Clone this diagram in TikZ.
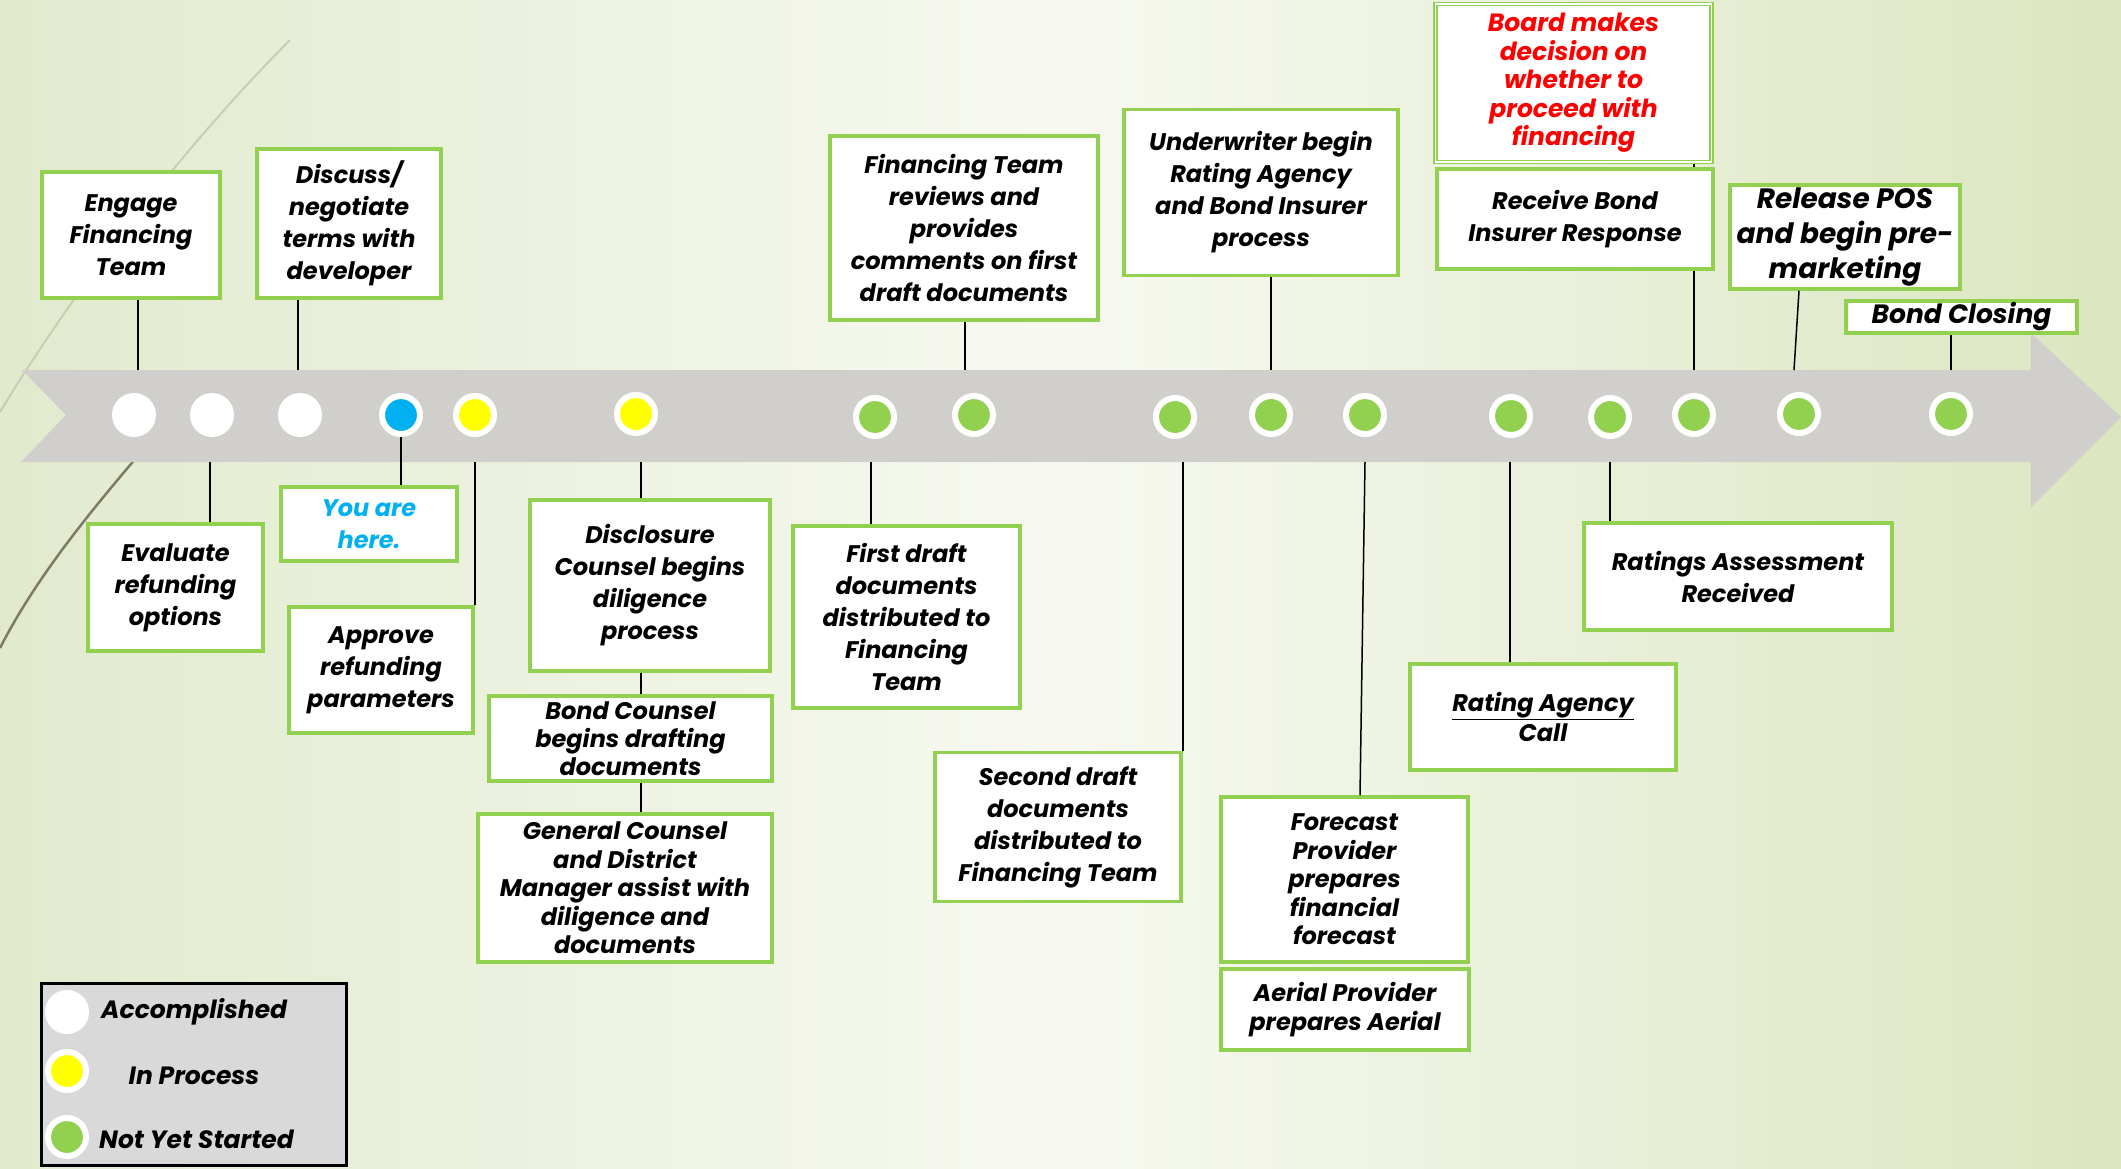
\documentclass[tikz,border=0pt]{standalone}
\usepackage{fontspec}
\setmainfont{Poppins}
\usetikzlibrary{calc}
\definecolor{bgleft}{HTML}{E1EACD}
\definecolor{bgmid}{HTML}{F7F9F1}
\definecolor{bgright}{HTML}{DBE6C0}
\definecolor{band}{HTML}{D0CFCC}
\definecolor{boxgreen}{HTML}{92D050}
\definecolor{dotgreen}{HTML}{92D050}
\definecolor{dotblue}{HTML}{00B0F0}
\definecolor{dotyellow}{HTML}{FFFF00}
\definecolor{legendgray}{HTML}{D9D9D9}
\definecolor{curvelight}{HTML}{CACDB2}
\definecolor{curvedark}{HTML}{7F7B63}
\newcommand{\bxf}[2]{\bfseries\itshape\fontsize{#1}{#2}\selectfont}
\begin{document}
\begin{tikzpicture}[x=1pt,y=-1pt,
  box/.style={draw=boxgreen, line width=3.5pt, fill=white, align=center, inner sep=0pt, font=\bxf{24}{32}},
  conn/.style={draw=black, line width=1.5pt},
  dotw/.style={circle, fill=white, minimum size=44pt, inner sep=0pt},
  dotc/.style={circle, fill=#1, draw=white, line width=6pt, minimum size=38pt, inner sep=0pt},
  legtext/.style={font=\bxf{25}{28}, inner sep=0pt}
]
\useasboundingbox (0,0) rectangle (2121,1169);
\shade[left color=bgleft, right color=bgright, middle color=bgmid] (0,0) rectangle (2121,1169);
% background theme curves
\draw[curvelight, line width=2pt] (290,40) .. controls (190,140) and (80,280) .. (0,412);
\draw[curvedark, line width=2.5pt] (160,430) .. controls (100,500) and (40,570) .. (0,648);
% arrow band
\fill[band] (22,370) -- (2031,370) -- (2031,333) -- (2121,417) -- (2031,507) -- (2031,462) -- (21,462) -- (66,415) -- cycle;
\coordinate (bt) at (0,370);
\coordinate (bb) at (0,462);
% dots
\node[dotw] (c1) at (134,415) {};
\node[dotw] (c2) at (212,415) {};
\node[dotw] (c3) at (300,415) {};
\node[dotc=dotblue] (c4) at (401,415) {};
\node[dotc=dotyellow] (c5) at (475,415) {};
\node[dotc=dotyellow] (c6) at (636,414) {};
\node[dotc=dotgreen] (c7) at (875,417) {};
\node[dotc=dotgreen] (c8) at (974,415) {};
\node[dotc=dotgreen] (c9) at (1175,417) {};
\node[dotc=dotgreen] (c10) at (1271,415) {};
\node[dotc=dotgreen] (c11) at (1365,415) {};
\node[dotc=dotgreen] (c12) at (1511,416) {};
\node[dotc=dotgreen] (c13) at (1610,417) {};
\node[dotc=dotgreen] (c14) at (1694,415) {};
\node[dotc=dotgreen] (c15) at (1799,414) {};
\node[dotc=dotgreen] (c16) at (1951,414) {};
% board connector (behind the receive box)
\node[box, draw=none, fill=none, minimum width=277pt, minimum height=159pt] (boardpos) at (1573.5,82.5) {};
\draw[conn] ([xshift=120.5pt]boardpos.south) -- ([xshift=120.5pt]boardpos.south |- bt);
% boxes
\node[box, minimum width=178pt, minimum height=126pt] (engage) at (131,235) {Engage\\Financing\\Team};
\node[box, minimum width=184pt, minimum height=149pt] (discuss) at (349,223.5) {Discuss/\\negotiate\\terms with\\developer};
\node[box, minimum width=175pt, minimum height=127pt] (evaluate) at (175.5,587.5) {Evaluate\\refunding\\options};
\node[box, minimum width=176pt, minimum height=74pt, text=dotblue] (youhere) at (369,524) {You are\\here.};
\node[box, minimum width=184pt, minimum height=126pt] (approve) at (381,670) {Approve\\refunding\\parameters};
\node[box, minimum width=240pt, minimum height=171pt] (disclosure) at (650,585.5) {Disclosure\\Counsel begins\\diligence\\process};
\node[box, minimum width=283pt, minimum height=85pt, font=\bxf{24}{28}] (bondcounsel) at (630.5,738.5) {Bond Counsel\\begins drafting\\documents};
\node[box, minimum width=294pt, minimum height=148pt, font=\bxf{24}{28.5}] (general) at (625,888) {General Counsel\\and District\\Manager assist with\\diligence and\\documents};
\node[box, minimum width=268pt, minimum height=184pt] (fteam) at (964,228) {Financing Team\\reviews and\\provides\\comments on first\\draft documents};
\node[box, minimum width=227pt, minimum height=182pt] (firstdraft) at (906.5,617) {First draft\\documents\\distributed to\\Financing\\Team};
\node[box, minimum width=274pt, minimum height=166pt] (underwriter) at (1261,192.5) {Underwriter begin\\Rating Agency\\and Bond Insurer\\process};
\node[box, minimum width=246pt, minimum height=149pt] (second) at (1058,827) {Second draft\\documents\\distributed to\\Financing Team};
\node[box, minimum width=247pt, minimum height=165pt, font=\bxf{24}{28.5}] (forecast) at (1344.5,879.5) {Forecast\\Provider\\prepares\\financial\\forecast};
\node[box, minimum width=248pt, minimum height=81pt, font=\bxf{24}{28.5}] (aerial) at (1345,1009.5) {Aerial Provider\\prepares Aerial};
\node[box, draw=boxgreen, line width=1.6pt, double=white, double distance=1.6pt, minimum width=276pt, minimum height=158pt, text=red, font=\bxf{25}{28.5}] (board) at (1573.5,83) {Board makes\\decision on\\whether to\\proceed with\\financing};
\node[box, minimum width=276pt, minimum height=100pt] (receive) at (1575,219) {Receive Bond\\Insurer Response};
\node[box, minimum width=230pt, minimum height=104pt, font=\bxf{28}{35}] (release) at (1845,237) {Release POS\\and begin pre-\\marketing};
\node[box, minimum width=231pt, minimum height=32pt, font=\bxf{26.5}{30}] (closing) at (1961.5,317) {Bond Closing};
\node[box, minimum width=266pt, minimum height=106pt, font=\bxf{24}{30}] (ragency) at (1543,717) {\underline{Rating Agency}\\Call};
\node[box, minimum width=308pt, minimum height=107pt] (rassess) at (1738,576.5) {Ratings Assessment\\Received};
% connectors
\draw[conn] ([xshift=7pt]engage.south) -- ([xshift=7pt]engage.south |- bt);
\draw[conn] ([xshift=-51pt]discuss.south) -- ([xshift=-51pt]discuss.south |- bt);
\draw[conn] ([xshift=34.5pt]evaluate.north) -- ([xshift=34.5pt]evaluate.north |- bb);
\draw[conn] (c4.south) -- (c4.south |- youhere.north);
\draw[conn] (approve.north east) -- (approve.north east |- bb);
\draw[conn] ([xshift=-9pt]disclosure.north) -- ([xshift=-9pt]disclosure.north |- bb);
\draw[conn] ([xshift=-9pt]disclosure.south) -- ([xshift=-9pt]disclosure.south |- bondcounsel.north);
\draw[conn] ([xshift=10.5pt]bondcounsel.south) -- ([xshift=10.5pt]bondcounsel.south |- general.north);
\draw[conn] ([xshift=1pt]fteam.south) -- ([xshift=1pt]fteam.south |- bt);
\draw[conn] ([xshift=-35.5pt]firstdraft.north) -- ([xshift=-35.5pt]firstdraft.north |- bb);
\draw[conn] ([xshift=10pt]underwriter.south) -- ([xshift=10pt]underwriter.south |- bt);
\draw[conn] (second.north east) -- (second.north east |- bb);
\draw[conn] ([xshift=15.5pt]forecast.north) -- ([xshift=20.5pt]forecast.north |- bb);
\draw[conn] ([xshift=-33pt]ragency.north) -- ([xshift=-33pt]ragency.north |- bb);
\draw[conn] ([xshift=-128pt]rassess.north) -- ([xshift=-128pt]rassess.north |- bb);
\draw[conn] ([xshift=-46pt]release.south) -- ([xshift=-51pt]release.south |- bt);
\draw[conn] ([xshift=-10.5pt]closing.south) -- ([xshift=-10.5pt]closing.south |- bt);
% legend
\node[draw=black, line width=3pt, fill=legendgray, minimum width=305pt, minimum height=182pt, inner sep=0pt] (legend) at (194,1074.5) {};
\node[dotw] (lg1) at (67,1012) {};
\node[dotc=dotyellow] (lg2) at (67,1071) {};
\node[dotc=dotgreen] (lg3) at (67,1137) {};
\node[legtext, anchor=west] (lt1) at (101,1012) {Accomplished};
\node[legtext] (lt2) at (194,1076) {In Process};
\node[legtext, anchor=west] (lt3) at (99,1139) {Not Yet Started};
\end{tikzpicture}
\end{document}
